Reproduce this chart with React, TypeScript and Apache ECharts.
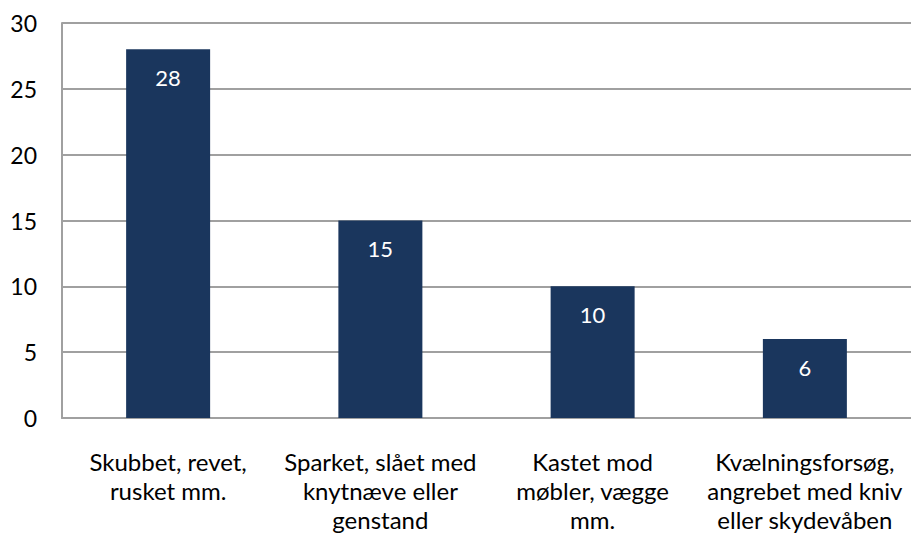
import React, { useEffect, useRef } from "react";
import * as echarts from "echarts";

const categories = [
  "Skubbet, revet,\nrusket mm.",
  "Sparket, slået med\nknytnæve eller\ngenstand",
  "Kastet mod\nmøbler, vægge\nmm.",
  "Kvælningsforsøg,\nangrebet med kniv\neller skydevåben",
];
const values = [28, 15, 10, 6];
const yTicks = { min: 0, max: 30, interval: 5 };

const FONT = "Lato";

export default function App() {
  const ref = useRef<HTMLDivElement>(null);
  useEffect(() => {
    document.body.style.margin = "0";
    const chart = echarts.init(ref.current!, null, { renderer: "svg" });
    chart.setOption({
      animation: false,
      backgroundColor: "#ffffff",
      grid: { left: 62, right: 0, top: 23, bottom: 120, containLabel: false },
      xAxis: {
        type: "category",
        data: categories,
        axisLine: { show: true, lineStyle: { color: "#a0a0a0", width: 2 } },
        axisTick: { show: false },
        axisLabel: {
          interval: 0,
          color: "#000000",
          fontFamily: FONT,
          fontSize: 24,
          lineHeight: 29,
          margin: 29,
        },
      },
      yAxis: {
        type: "value",
        min: yTicks.min,
        max: yTicks.max,
        interval: yTicks.interval,
        axisLine: { show: true, lineStyle: { color: "#a0a0a0", width: 2 } },
        axisTick: { show: false },
        splitLine: { lineStyle: { color: "#a0a0a0", width: 2 } },
        axisLabel: {
          color: "#000000",
          fontFamily: FONT,
          fontSize: 23,
          margin: 25,
        },
      },
      series: [
        {
          type: "bar",
          data: values,
          barWidth: 84,
          itemStyle: { color: "#1a365d" },
          label: {
            show: true,
            position: "insideTop",
            distance: 17,
            color: "#ffffff",
            fontFamily: FONT,
            fontSize: 22,
          },
        },
      ],
    });
    return () => chart.dispose();
  }, []);
  return (
    <div
      ref={ref}
      style={{ position: "absolute", left: 0, top: 0, width: 911, height: 538 }}
    />
  );
}
